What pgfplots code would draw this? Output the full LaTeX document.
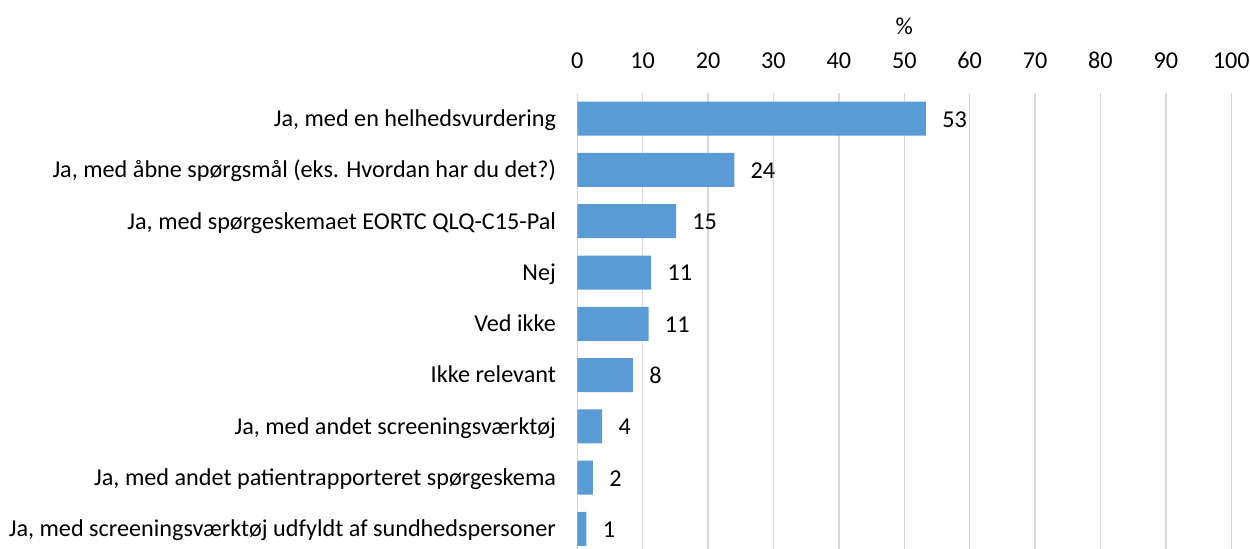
\documentclass[border=0pt]{standalone}
\usepackage{fontspec}
\setmainfont{Carlito}
\usepackage{pgfplots}
\pgfplotsset{compat=1.18}
\definecolor{barblue}{HTML}{5B9BD5}
\definecolor{gridgray}{HTML}{D9D9D9}
\begin{document}
\fontsize{12.1}{14}\selectfont
\begin{tikzpicture}
\path[use as bounding box] (0pt,0pt) rectangle (625pt,274.5pt);
\begin{axis}[
  at={(288.65pt,0pt)}, anchor=south west,
  width=327pt, height=228pt, scale only axis,
  clip=false,
  /pgf/number format/assume math mode=true,
  xbar, bar width=17pt,
  xmin=0, xmax=100, ymin=-0.5, ymax=8.39, y dir=reverse,
  axis line style={draw=none},
  xtick={0,10,...,100}, xticklabel pos=upper,
  xticklabel style={anchor=base, inner sep=0pt, yshift=12.25pt},
  major tick length=0pt,
  xmajorgrids, grid style={gridgray, line width=0.75pt},
  ytick={0,...,8},
  yticklabels={{Ja, med en helhedsvurdering},{Ja, med åbne spørgsmål (eks. Hvordan har du det?)},{Ja, med spørgeskemaet EORTC QLQ-C15-Pal},{Nej},{Ved ikke},{Ikke relevant},{Ja, med andet screeningsværktøj},{Ja, med andet patientrapporteret spørgeskema},{Ja, med screeningsværktøj udfyldt af sundhedspersoner}},
  yticklabel style={anchor=base east, inner sep=0pt, xshift=-10.5pt, yshift=-3.9pt},
  y tick style={draw=none},
  point meta=explicit symbolic,
  nodes near coords,
  nodes near coords style={anchor=base west, inner sep=0pt, xshift=8pt, yshift=-4.2pt, text=black},
  tick label style={text=black},
]
\addplot[fill=barblue, draw=none] coordinates {
  (53.3,0) [53]
  (24.0,1) [24]
  (15.1,2) [15]
  (11.3,3) [11]
  (10.9,4) [11]
  (8.5,5) [8]
  (3.8,6) [4]
  (2.4,7) [2]
  (1.4,8) [1]
};
\node[anchor=base, inner sep=0pt] at (axis description cs:0.5,1) [yshift=29pt] {\%};
\end{axis}
\end{tikzpicture}
\end{document}
